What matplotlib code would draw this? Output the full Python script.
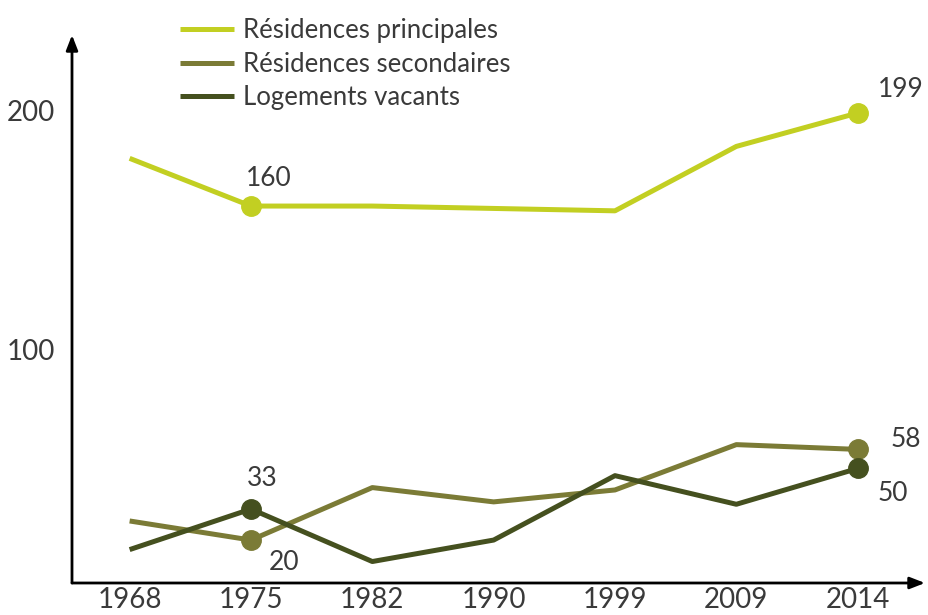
import matplotlib.pyplot as plt

# Data
years = ['1968', '1975', '1982', '1990', '1999', '2009', '2014']
principales = [180, 160, 160, 159, 158, 185, 199]
secondaires = [28, 20, 42, 36, 41, 60, 58]
vacants = [16, 33, 11, 20, 47, 35, 50]

labels = ['Résidences principales', 'Résidences secondaires', 'Logements vacants']
colors = ['#c2cf22', '#7b7b36', '#45501f']

plt.rcParams['font.family'] = ['Lato', 'DejaVu Sans']
txt = '#3a3a3a'

W, H = 929, 615
fig = plt.figure(figsize=(W / 100, H / 100), dpi=100)
# axes box in pixels: x 72..925, y 35..583 (from top)
ax = fig.add_axes([72 / W, (H - 583) / H, (925 - 72) / W, (583 - 35) / H])

x = list(range(len(years)))
series = [principales, secondaires, vacants]
for vals, c, lab in zip(series, colors, labels):
    ax.plot(x, vals, color=c, lw=3.6, label=lab, solid_capstyle='butt', zorder=3)

# highlighted points
marks = [
    (1, principales[1], colors[0], '160', (13, 20)),
    (6, principales[6], colors[0], '199', (31, 17)),
    (1, vacants[1], colors[2], '33', (8, 22)),
    (1, secondaires[1], colors[1], '20', (24, -16)),
    (6, secondaires[6], colors[1], '58', (35, 7)),
    (6, vacants[6], colors[2], '50', (25, -18)),
]
for xi, yv, c, t, off in marks:
    ax.plot(xi, yv, 'o', color=c, ms=14, zorder=4)
    ax.annotate(t, (xi, yv), xytext=off, textcoords='offset points',
                ha='center', va='center', fontsize=19, color=txt)

ax.set_xlim(-0.475, 6.555)
ax.set_ylim(2, 231.7)

for s in ax.spines.values():
    s.set_visible(False)
ax.set_facecolor('none')

# arrow axes
ax.annotate('', xy=(0, 1), xytext=(0, 0), xycoords='axes fraction',
            arrowprops=dict(arrowstyle='-|>,head_length=0.9,head_width=0.35',
                            color='black', lw=2, shrinkA=0, shrinkB=0))
ax.annotate('', xy=(1, 0), xytext=(0, 0), xycoords='axes fraction',
            arrowprops=dict(arrowstyle='-|>,head_length=0.9,head_width=0.35',
                            color='black', lw=2, shrinkA=0, shrinkB=0))

ax.set_xticks(x)
ax.set_xticklabels(years)
ax.set_yticks([100, 200])
ax.set_yticklabels(['100', '200'])
ax.tick_params(length=0, labelsize=20, colors=txt, pad=3)
ax.tick_params(axis='y', pad=12)

fig.legend(loc='upper left', bbox_to_anchor=(157 / W, 1 + 5 / H), frameon=False,
           fontsize=18.5, handlelength=2.1, handletextpad=0.35, labelspacing=0.33,
           labelcolor=txt)

fig.savefig('out.png', dpi=100)
